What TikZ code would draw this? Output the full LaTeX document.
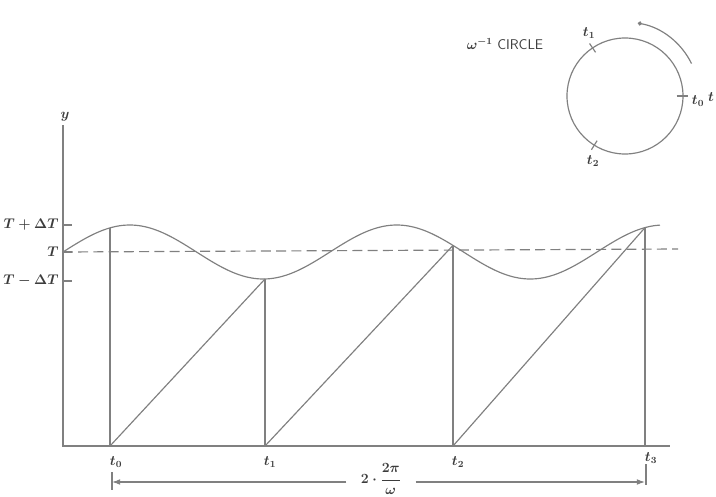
\documentclass[tikz,border=0pt]{standalone}
\usetikzlibrary{arrows.meta}
\definecolor{pencil}{RGB}{128,128,128}
\definecolor{ink}{RGB}{60,60,60}
\begin{document}
\begin{tikzpicture}[x=0.03cm, y=-0.03cm,
		pen/.style={draw=pencil, line width=1pt},
		lbl/.style={text=ink, inner sep=1pt, font=\large\boldmath},
		dim/.style={pen, -{Latex[length=7pt, width=5pt]}}]
	\useasboundingbox (0,0) rectangle (716,497);

	% axes
	\coordinate (o) at (63,446);
	\coordinate (ytop) at (63,125);
	\coordinate (xend) at (670,446);
	\draw[pen] (ytop) -- (o) -- (xend);
	\node[lbl] (ylab) at (65,117) {$y$};

	% levels on the y axis
	\foreach \yy/\nm/\txt in {225/hi/{T+\Delta T}, 252/mid/{T}, 281/lo/{T-\Delta T}} {
		\draw[pen] (63,\yy) -- (72,\yy);
		\node[lbl, anchor=east] (\nm) at (60,\yy) {$\txt$};
	}
	\draw[pen, dash pattern=on 8.5pt off 4.5pt] (63,252) -- (678,249);

	% the wave
	\draw[pen] plot[domain=63:660, samples=120, smooth] (\x,{252-27*sin(((\x-63)/267)*360)});

	\coordinate (c0) at (110,227.9);
	\coordinate (c1) at (265,279);
	\coordinate (c2) at (453,245.4);
	\coordinate (c3) at (645,227.6);
	\coordinate (b0) at (110,446);
	\coordinate (b1) at (265,446);
	\coordinate (b2) at (453,446);
	\coordinate (b3) at (645,446);

	\draw[pen] (c0) -- (b0);
	\draw[pen] (c1) -- (b1);
	\draw[pen] (c2) -- (b2);
	\draw[pen] (c3) -- (b3);
	\draw[pen] (b0) -- (c1);
	\draw[pen] (b1) -- (c2);
	\draw[pen] (b2) -- (c3);

	\node[lbl] (t0) at (116,462) {$t_0$};
	\node[lbl] (t1) at (270,462) {$t_1$};
	\node[lbl] (t2) at (458,462) {$t_2$};
	\node[lbl] (t3) at (651,458) {$t_3$};

	% period
	\coordinate (dL) at (112,482);
	\coordinate (dR) at (645,482);
	\draw[pen] (112,472) -- (112,490);
	\draw[pen] (646,464) -- (646,485);
	\node[lbl, inner xsep=12pt, inner ysep=0pt] (per) at (381,479) {$2\cdot\displaystyle\frac{2\pi}{\omega}$};
	\draw[dim] (per.west |- dL) -- (dL);
	\draw[dim] (per.east |- dR) -- (dR);

	% omega^-1 circle
	\node[lbl] (ttl) at (505,44) {$\omega^{-1}$ \textsf{CIRCLE}};
	\node[draw=pencil, line width=1pt, circle, minimum size=3.48cm, inner sep=0pt] (wc) at (625,96) {};
	\draw[pen] ([shift={(0:1.55cm)}]wc.center) -- ([shift={(0:1.9cm)}]wc.center);
	\draw[pen] ([shift={(124:1.58cm)}]wc.center) -- ([shift={(124:1.9cm)}]wc.center);
	\draw[pen] ([shift={(238:1.58cm)}]wc.center) -- ([shift={(238:1.9cm)}]wc.center);
	\node[lbl] (w0) at (698,101) {$t_0$};
	\node[lbl] (w1) at (589,33) {$t_1$};
	\node[lbl] (w2) at (593,161) {$t_2$};
	\node[lbl] (wt) at (711,97) {$t$};
	\draw[pen, {Circle[length=3.5pt]}-] ([shift={(80:2.22cm)}]wc.center) arc[start angle=80, end angle=26, radius=2.22cm];
\end{tikzpicture}
\end{document}
